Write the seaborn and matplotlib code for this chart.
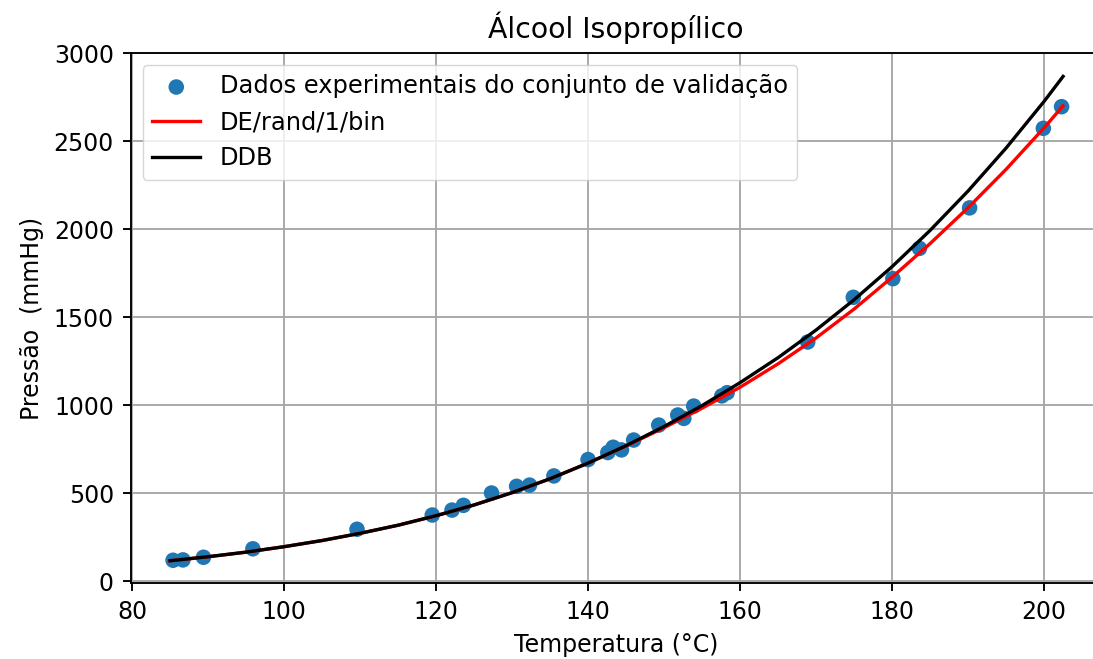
import matplotlib
matplotlib.use("Agg")
import matplotlib.pyplot as plt
import pandas as pd
import seaborn as sns

# experimental validation points (Temperatura °C, Pressão mmHg)
temp_exp = [85.4, 86.7, 89.4, 95.9, 109.6, 119.5, 122.1, 123.6, 127.3, 130.6,
            132.3, 135.5, 140.0, 142.6, 143.3, 144.4, 146.0, 149.3, 151.8, 152.6,
            153.9, 157.6, 158.3, 168.9, 174.9, 180.1, 183.6, 190.2, 199.9, 202.3]
pres_exp = [118, 120, 135, 183, 294, 375, 403, 430, 500, 538,
            545, 597, 690, 730, 760, 745, 801, 886, 943, 924,
            994, 1052, 1070, 1358, 1612, 1718, 1890, 2120, 2572, 2695]

# fitted curves
temp_curve = [85, 90, 95, 100, 105, 110, 115, 120, 125, 130, 135, 140, 145, 150,
              155, 160, 165, 170, 175, 180, 185, 190, 195, 200, 202.5]
pres_de = [115, 138, 164, 195, 230, 271, 317, 371, 432, 502, 581, 670, 767, 871,
           982, 1101, 1234, 1381, 1545, 1726, 1917, 2121, 2339, 2575, 2700]
pres_ddb = [115, 138, 164, 195, 230, 271, 317, 371, 432, 502, 581, 670, 769, 878,
            997, 1127, 1269, 1426, 1598, 1786, 1992, 2216, 2460, 2725, 2867]

s = 1.7  # scale factor vs matplotlib defaults
plt.rcParams.update({
    "font.size": 10 * s,
    "axes.titlesize": 12 * s,
    "axes.linewidth": 0.8 * s,
    "xtick.major.size": 3.5 * s,
    "ytick.major.size": 3.5 * s,
    "xtick.major.width": 0.8 * s,
    "ytick.major.width": 0.8 * s,
    "xtick.major.pad": 3.5 * s,
    "ytick.major.pad": 3.5 * s,
    "axes.labelpad": 4 * s,
    "axes.titlepad": 6 * s,
})

df_exp = pd.DataFrame({"T": temp_exp, "P": pres_exp})
df_curve = pd.DataFrame({"T": temp_curve, "DE": pres_de, "DDB": pres_ddb})

fig = plt.figure(figsize=(10.93, 6.59), dpi=100)
ax = fig.add_axes([0.1194, 0.1146, 0.8887, 0.8055])

sns.scatterplot(data=df_exp, x="T", y="P", ax=ax, color="#1f77b4", s=125,
                edgecolor="none", label="Dados experimentais do conjunto de validação",
                zorder=2)
sns.lineplot(data=df_curve, x="T", y="DE", ax=ax, color="red", lw=2.4,
             estimator=None, label="DE/rand/1/bin", zorder=3)
sns.lineplot(data=df_curve, x="T", y="DDB", ax=ax, color="black", lw=2.4,
             estimator=None, label="DDB", zorder=3)

ax.set_xlim(79.8, 207.6)
ax.set_ylim(-14, 3002)
ax.set_xticks([80, 100, 120, 140, 160, 180, 200])
ax.set_yticks([0, 500, 1000, 1500, 2000, 2500, 3000])
ax.grid(True, color="#a8a8a8", lw=0.8 * s)
ax.set_axisbelow(True)
ax.set_title("Álcool Isopropílico")
ax.set_xlabel("Temperatura (°C)")
ax.set_ylabel("Pressão  (mmHg)")
ax.legend(loc="upper left", fontsize=10.2 * s)

fig.savefig("out.png", dpi=100)
